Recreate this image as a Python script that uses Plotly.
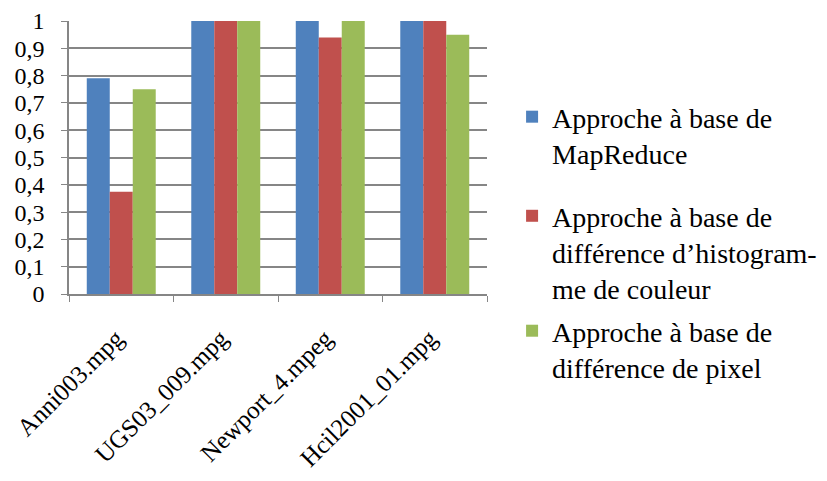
import plotly.graph_objects as go

categories = ["Anni003.mpg", "UGS03_009.mpg", "Newport_4.mpeg", "Hcil2001_01.mpg"]
series_names = [
    "Approche à base de<br>MapReduce",
    "Approche à base de<br>différence d’histogram-<br>me de couleur",
    "Approche à base de<br>différence de pixel",
]
mapreduce = [0.79, 1.0, 1.0, 1.0]
histogramme = [0.375, 1.0, 0.94, 1.0]
pixel = [0.75, 1.0, 1.0, 0.95]
y_tickvals = [0, 0.1, 0.2, 0.3, 0.4, 0.5, 0.6, 0.7, 0.8, 0.9, 1]
y_ticktext = ["0", "0,1", "0,2", "0,3", "0,4", "0,5", "0,6", "0,7", "0,8", "0,9", "1"]

colors = ["#4F81BD", "#C0504D", "#9BBB59"]
values = [mapreduce, histogramme, pixel]
legends = ["legend", "legend2", "legend3"]

fig = go.Figure()
for name, vals, col, lg in zip(series_names, values, colors, legends):
    fig.add_trace(go.Bar(x=categories, y=vals, name=name, marker_color=col,
                         marker_line_width=0, legend=lg, showlegend=True))

FAM = "Liberation Serif"
leg_common = dict(font=dict(family=FAM, size=28, color="black"),
                  bgcolor="rgba(0,0,0,0)", valign="top",
                  xanchor="left", yanchor="top", itemwidth=30,
                  xref="paper", yref="paper")

# The page body adds an 8px offset, so margins are reduced by 8px on left/top.
fig.update_layout(
    width=827, height=481,
    margin=dict(l=61, r=348, t=13, b=195),
    paper_bgcolor="white", plot_bgcolor="white",
    bargap=0.34, bargroupgap=0,
    font=dict(family=FAM, color="black"),
    showlegend=True,
    legend=dict(x=1.06, y=0.74, **leg_common),
    legend2=dict(x=1.06, y=0.377, **leg_common),
    legend3=dict(x=1.06, y=-0.044, **leg_common),
    xaxis=dict(
        type="category", tickson="boundaries", ticks="outside", ticklen=6,
        tickcolor="#868686", showline=True, linecolor="#868686", linewidth=1.5,
        tickangle=-45, tickfont=dict(family=FAM, size=25, color="black"),
        showgrid=False, ticklabelstandoff=18, ticklabelshift=-5,
        automargin=False,
    ),
    yaxis=dict(
        range=[0, 1], tickvals=y_tickvals, ticktext=y_ticktext,
        ticks="outside", ticklen=6, tickcolor="#868686",
        showline=True, linecolor="#868686", linewidth=1.5,
        showgrid=True, gridcolor="#868686", gridwidth=1.5,
        tickfont=dict(family=FAM, size=24, color="black"),
        ticklabelstandoff=12, zeroline=False, automargin=False,
    ),
)

fig.write_html("out.html")
